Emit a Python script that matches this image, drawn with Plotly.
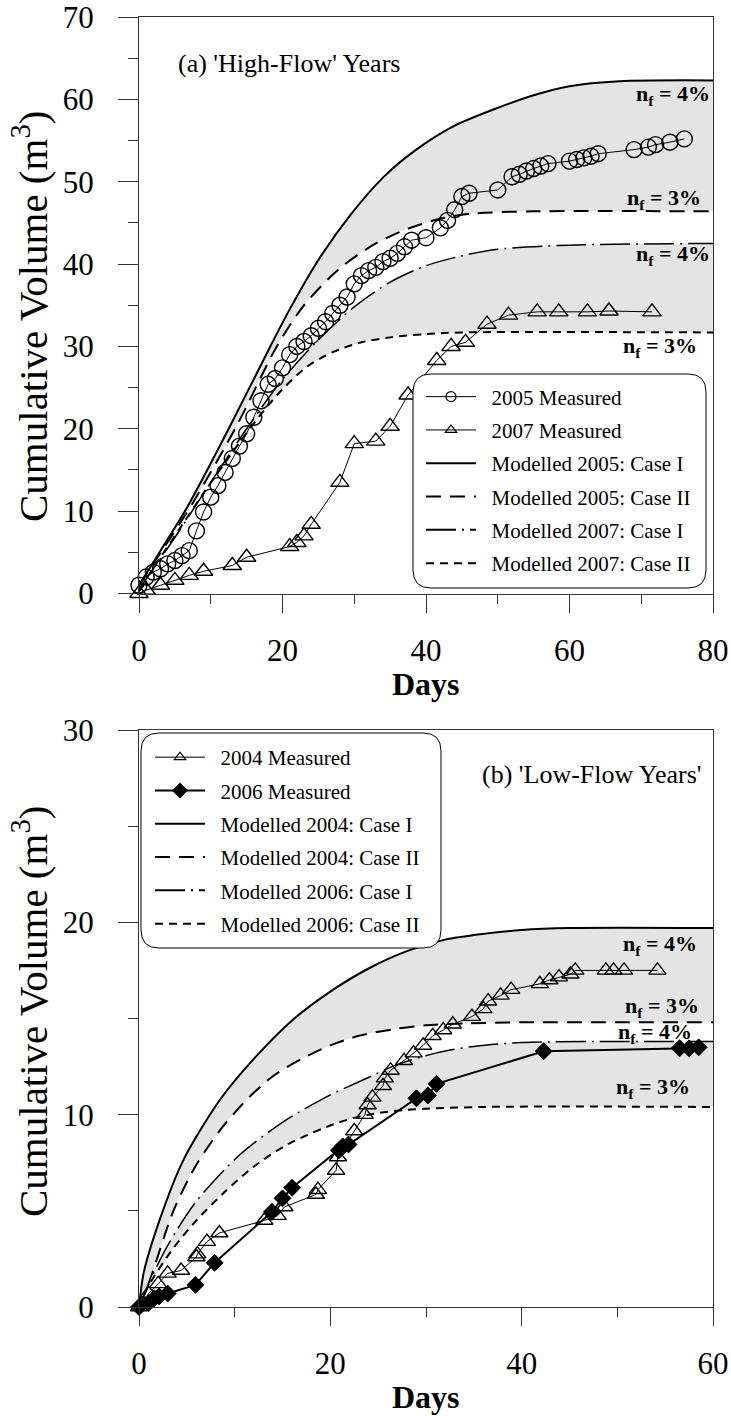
import plotly.graph_objects as go

W, H = 731, 1416
FONT = "Liberation Serif"
GRAY = "#e4e4e4"

# ---------------- Panel (a) data: 'High-Flow' years ----------------
days_2005 = [0, 1, 2, 3, 4, 5, 6, 7, 8, 9, 10, 11, 12, 13, 14, 15, 16, 17, 18, 19,
             20, 21, 22, 23, 24, 25, 26, 27, 28, 29, 30, 31, 32, 33, 34, 35, 36, 37, 38,
             40, 42, 43, 44, 45, 46, 50, 52, 53, 54, 55, 56, 57, 60, 61, 62, 63, 64,
             69, 71, 72, 74, 76]
vol_2005 = [1.0, 2.0, 2.6, 3.0, 3.6, 4.0, 4.6, 5.2, 7.6, 9.9, 11.7, 13.1, 14.7, 16.4, 17.9,
            19.4, 21.4, 23.4, 25.4, 26.1, 27.4, 29.0, 30.0, 30.6, 31.3, 32.2, 33.0, 34.0,
            35.0, 36.0, 37.6, 38.6, 39.2, 39.6, 40.3, 40.7, 41.3, 42.1, 42.9,
            43.2, 44.4, 45.3, 46.6, 48.2, 48.6, 49.0, 50.6, 50.9, 51.3, 51.6, 51.9, 52.2,
            52.5, 52.7, 52.9, 53.1, 53.4, 53.9, 54.2, 54.5, 54.8, 55.2]

days_2007 = [0, 1, 3, 5, 7, 9, 13, 15, 21, 22, 23, 24, 28, 30, 33, 35, 37.5, 41.5, 43.5,
             45.5, 48.5, 51.5, 55.5, 58.5, 62.5, 65.5, 71.5]
vol_2007 = [0, 0.4, 1.0, 1.6, 2.2, 2.7, 3.4, 4.4, 5.7, 6.2, 7.0, 8.4, 13.5, 18.2, 18.5,
            20.3, 24.1, 28.3, 30.0, 30.5, 32.7, 33.8, 34.2, 34.2, 34.2, 34.3, 34.2]

mod05_I_days = [0, 3, 6.8, 12.5, 18.3, 21, 25, 29.5, 34, 38.5, 44, 49.5, 55, 60, 67, 80]
mod05_I_vol = [1, 5.2, 10.6, 20, 30, 34.5, 40.5, 46, 50.5, 53.8, 56.8, 58.8, 60.5, 61.6, 62.2, 62.3]
mod05_II_days = [0, 3.5, 7.5, 13.7, 19.2, 23, 28, 33, 37.5, 42, 46, 55, 80]
mod05_II_vol = [1, 5.6, 11, 20.5, 30, 35, 39.5, 42.5, 44.3, 45.5, 46.1, 46.4, 46.4]
mod07_I_days = [0, 5, 10, 15, 20, 25, 30, 35, 40, 45, 50, 60, 80]
mod07_I_vol = [0.5, 6.8, 13.5, 20, 26, 30.8, 34.8, 37.8, 39.8, 41, 41.8, 42.3, 42.5]
mod07_II_days = [0, 3, 6, 9, 12, 15, 17.5, 20, 23.5, 27, 31, 35, 40, 45, 80]
mod07_II_vol = [0.5, 4.4, 8.3, 12.2, 15.9, 19.5, 22.3, 24.8, 27.6, 29.3, 30.5, 31.1, 31.5, 31.7, 31.7]

# ---------------- Panel (b) data: 'Low-Flow' years ----------------
days_2004 = [0, 1, 2, 3, 4.4, 6, 6.1, 7.1, 8.4, 13.1, 14.5, 15.2, 18.5, 18.7, 20.6, 20.8,
             22.5, 23.6, 23.9, 24.4, 25.5, 25.7, 26.3, 27.7, 28.7, 29.7, 30.7, 31.8, 32.8,
             34.8, 36, 36.5, 37.8, 38.9, 41.9, 42.9, 43.9, 45.1, 45.6, 48.8, 49.6, 50.7, 54.2]
vol_2004 = [0, 0.7, 1.2, 1.75, 1.9, 2.6, 2.75, 3.4, 3.85, 4.5, 4.75, 5.2, 5.85, 6.1, 7.1, 7.8,
            9.15, 10.0, 10.5, 10.9, 11.5, 11.9, 12.3, 12.8, 13.2, 13.6, 14.1, 14.4, 14.7,
            15.1, 15.5, 15.9, 16.2, 16.5, 16.8, 17.0, 17.15, 17.3, 17.5, 17.5, 17.5, 17.5, 17.5]

days_2006 = [0, 1, 1.6, 2.1, 3, 5.9, 7.9, 13.9, 15, 16, 20.9, 21.3, 21.9, 29, 30.2, 31.1,
             42.3, 56.5, 57.5, 58.5]
vol_2006 = [0, 0.2, 0.45, 0.55, 0.7, 1.15, 2.3, 4.95, 5.65, 6.2, 8.15, 8.35, 8.45, 10.85,
            11.0, 11.6, 13.3, 13.45, 13.45, 13.5]

mod04_I_days = [0, 0.5, 2, 4.6, 8.5, 12, 16, 20, 24, 28, 32, 36, 40, 45, 60]
mod04_I_vol = [0, 1.8, 4.3, 7.6, 10.8, 12.9, 14.9, 16.4, 17.6, 18.5, 19.1, 19.4, 19.6, 19.7, 19.7]
mod04_II_days = [0, 1, 3.6, 6, 8.8, 11.5, 14, 17, 20, 23, 26.7, 30, 34.5, 40, 60]
mod04_II_vol = [0, 1.2, 5.0, 7.4, 9.4, 10.9, 12.0, 12.9, 13.6, 14.1, 14.45, 14.65, 14.75, 14.8, 14.8]
mod06_I_days = [0, 1, 3, 6, 10.5, 15, 19.5, 23.4, 27, 31, 35, 40, 60]
mod06_I_vol = [0, 1.2, 3.2, 5.5, 7.9, 9.6, 10.9, 11.8, 12.6, 13.2, 13.55, 13.75, 13.8]
mod06_II_days = [0, 1, 3.5, 6, 9, 12, 15.7, 20.9, 24, 28, 36, 60]
mod06_II_vol = [0, 1.1, 3.0, 4.5, 6.0, 7.3, 8.5, 9.6, 10.0, 10.25, 10.4, 10.4]

legend_a = ["2005 Measured", "2007 Measured", "Modelled 2005: Case I",
            "Modelled 2005: Case II", "Modelled 2007: Case I", "Modelled 2007: Case II"]
legend_b = ["2004 Measured", "2006 Measured", "Modelled 2004: Case I",
            "Modelled 2004: Case II", "Modelled 2006: Case I", "Modelled 2006: Case II"]

DASH_I = "solid"
DASH_II = "15px,9px"
DASH_DD = "30px,6px,2px,6px"
DASH_SD = "8px,6px"

fig = go.Figure()


def model(x, y, dash, width, xa, ya, fill=None):
    fig.add_trace(go.Scatter(
        x=x, y=y, mode="lines", xaxis=xa, yaxis=ya, showlegend=False,
        line=dict(color="black", width=width, dash=dash, shape="spline", smoothing=0.8),
        fill=fill, fillcolor=GRAY, hoverinfo="skip"))


def measured(x, y, symbol, size, lw, xa, ya, mlw=1.4):
    fig.add_trace(go.Scatter(
        x=x, y=y, mode="lines+markers", xaxis=xa, yaxis=ya, showlegend=False,
        cliponaxis=False,
        line=dict(color="black", width=lw),
        marker=dict(symbol=symbol, size=size, color="black",
                    line=dict(color="black", width=mlw)),
        hoverinfo="skip"))


def proxy(name, legend, mode, dash="solid", width=1.5, symbol=None, size=9):
    kw = dict(x=[None], y=[None], mode=mode, name="  " + name, legend=legend,
              legendgroup=name, line=dict(color="black", width=width, dash=dash))
    if symbol:
        kw["marker"] = dict(symbol=symbol, size=size, color="black",
                            line=dict(color="black", width=1.2))
    kw["xaxis"] = "x" if legend == "legend" else "x2"
    kw["yaxis"] = "y" if legend == "legend" else "y2"
    fig.add_trace(go.Scatter(**kw))


# panel (a)
model(mod05_II_days, mod05_II_vol, DASH_II, 2, "x", "y")
model(mod05_I_days, mod05_I_vol, DASH_I, 2, "x", "y", fill="tonexty")
model(mod07_II_days, mod07_II_vol, DASH_SD, 2, "x", "y")
model(mod07_I_days, mod07_I_vol, DASH_DD, 1.5, "x", "y", fill="tonexty")
measured(days_2005, vol_2005, "circle-open", 16, 1, "x", "y")
measured(days_2007, vol_2007, "triangle-up-open", 16, 1, "x", "y")

# panel (b)
model(mod04_II_days, mod04_II_vol, DASH_II, 2, "x2", "y2")
model(mod04_I_days, mod04_I_vol, DASH_I, 2, "x2", "y2", fill="tonexty")
model(mod06_II_days, mod06_II_vol, DASH_SD, 2, "x2", "y2")
model(mod06_I_days, mod06_I_vol, DASH_DD, 1.5, "x2", "y2", fill="tonexty")
measured(days_2004, vol_2004, "triangle-up-open", 15, 1, "x2", "y2")
measured(days_2006, vol_2006, "diamond", 13, 2, "x2", "y2", mlw=1)

# legend entries
proxy(legend_a[0], "legend", "lines+markers", width=1, symbol="circle-open", size=10)
proxy(legend_a[1], "legend", "lines+markers", width=1, symbol="triangle-up-open", size=10)
proxy(legend_a[2], "legend", "lines", DASH_I, 2)
proxy(legend_a[3], "legend", "lines", DASH_II, 2)
proxy(legend_a[4], "legend", "lines", DASH_DD, 2)
proxy(legend_a[5], "legend", "lines", DASH_SD, 2)
proxy(legend_b[0], "legend2", "lines+markers", width=1, symbol="triangle-up-open", size=10)
proxy(legend_b[1], "legend2", "lines+markers", width=2, symbol="diamond", size=11)
proxy(legend_b[2], "legend2", "lines", DASH_I, 2)
proxy(legend_b[3], "legend2", "lines", DASH_II, 2)
proxy(legend_b[4], "legend2", "lines", DASH_DD, 2)
proxy(legend_b[5], "legend2", "lines", DASH_SD, 2)


def px(x):
    return x / W


def py(y):
    return 1 - y / H


XDOM = [px(139), px(713)]
AXCOL = "#333333"


def xaxis_cfg(rng, dt, anchor, minor_dt):
    return dict(domain=XDOM, range=rng, dtick=dt, tick0=0, anchor=anchor,
                showline=True, linecolor=AXCOL, linewidth=1.2, mirror=True,
                ticks="outside", ticklen=18, tickwidth=1.2, tickcolor=AXCOL,
                minor=dict(dtick=minor_dt, ticklen=9, ticks="outside", tickwidth=1.2,
                           tickcolor=AXCOL),
                showgrid=False, zeroline=False, ticklabelstandoff=11, automargin=False,
                ticklabeloverflow="allow",
                tickfont=dict(family=FONT, size=31, color="black"))


def yaxis_cfg(dom, rng, anchor):
    return dict(domain=dom, range=rng, dtick=10, tick0=0, anchor=anchor,
                showline=True, linecolor=AXCOL, linewidth=1.2, mirror=True,
                ticks="outside", ticklen=20, tickwidth=1.2, tickcolor=AXCOL,
                minor=dict(dtick=5, ticklen=10, ticks="outside", tickwidth=1.2,
                           tickcolor=AXCOL),
                showgrid=False, zeroline=False, ticklabelstandoff=18, automargin=False,
                ticklabeloverflow="allow",
                tickfont=dict(family=FONT, size=31, color="black"))


def rrect(l, t, r, b, rad):
    return (f"M {px(l+rad)},{py(t)} L {px(r-rad)},{py(t)} Q {px(r)},{py(t)} {px(r)},{py(t+rad)} "
            f"L {px(r)},{py(b-rad)} Q {px(r)},{py(b)} {px(r-rad)},{py(b)} "
            f"L {px(l+rad)},{py(b)} Q {px(l)},{py(b)} {px(l)},{py(b-rad)} "
            f"L {px(l)},{py(t+rad)} Q {px(l)},{py(t)} {px(l+rad)},{py(t)} Z")


shapes = [
    dict(type="path", xref="paper", yref="paper", path=rrect(413, 374, 706, 588, 18),
         fillcolor="white", line=dict(color="black", width=1), layer="above"),
    dict(type="path", xref="paper", yref="paper", path=rrect(141, 733, 441, 948, 18),
         fillcolor="white", line=dict(color="black", width=1), layer="above"),
]

ann = []
ytitle = "Cumulative Volume (m<sup>3</sup>)"
for yc in (317, 1012):
    ann.append(dict(text=ytitle, x=px(30), y=py(yc), xref="paper", yref="paper",
                    textangle=-90, showarrow=False, xanchor="center", yanchor="middle",
                    font=dict(family=FONT, size=41, color="black")))
for yc in (684, 1397):
    ann.append(dict(text="<b>Days</b>", x=px(426), y=py(yc), xref="paper", yref="paper",
                    showarrow=False, xanchor="center", yanchor="middle",
                    font=dict(family=FONT, size=32, color="black")))
ann.append(dict(text="(a) 'High-Flow' Years", x=5.1, y=64.4, xref="x", yref="y",
                showarrow=False, xanchor="left", yanchor="middle",
                font=dict(family=FONT, size=26, color="black")))
ann.append(dict(text="(b) 'Low-Flow Years'", x=59.05, y=27.7, xref="x2", yref="y2",
                showarrow=False, xanchor="right", yanchor="middle",
                font=dict(family=FONT, size=26, color="black")))
nf_labels = [("x", "y", 79.8, 60.5, "4%"), ("x", "y", 78.6, 47.9, "3%"),
             ("x", "y", 79.8, 41.1, "4%"), ("x", "y", 78.0, 29.9, "3%"),
             ("x2", "y2", 58.5, 18.8, "4%"), ("x2", "y2", 58.7, 15.6, "3%"),
             ("x2", "y2", 58.0, 14.25, "4%"), ("x2", "y2", 57.8, 11.4, "3%")]
for xa, ya, xv, yv, t in nf_labels:
    ann.append(dict(text=f"<b>n<sub>f</sub> = {t}</b>", x=xv, y=yv, xref=xa, yref=ya,
                    showarrow=False, xanchor="right", yanchor="middle",
                    font=dict(family=FONT, size=22, color="black")))

leg_common = dict(bgcolor="rgba(0,0,0,0)", borderwidth=0, xanchor="left", yanchor="top",
                  font=dict(family=FONT, size=21, color="black"), itemwidth=50,
                  tracegroupgap=3, traceorder="grouped")

fig.update_layout(
    width=W, height=H, autosize=False,
    margin=dict(l=0, r=0, t=0, b=0, pad=0, autoexpand=False),
    paper_bgcolor="white", plot_bgcolor="white",
    font=dict(family=FONT, color="black"),
    xaxis=xaxis_cfg([0, 80], 20, "y", 10),
    yaxis=yaxis_cfg([py(593.5), py(17)], [0, 70], "x"),
    xaxis2=xaxis_cfg([0, 60], 20, "y2", 10),
    yaxis2=yaxis_cfg([py(1307), py(730)], [0, 30], "x2"),
    legend=dict(x=px(421), y=py(376.5), **leg_common),
    legend2=dict(x=px(150), y=py(737), **leg_common),
    shapes=shapes,
    annotations=ann,
    showlegend=True,
)

fig.write_html("out.html")
